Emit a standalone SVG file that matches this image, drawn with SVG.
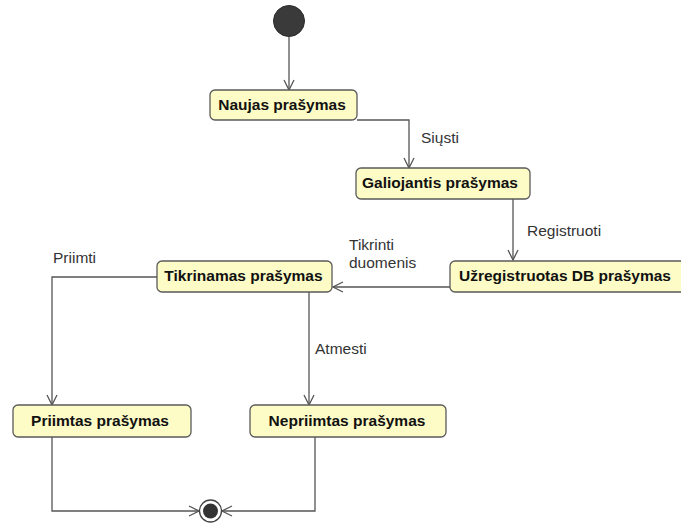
<svg xmlns="http://www.w3.org/2000/svg" width="681" height="524" viewBox="0 0 681 524">
<defs>
<marker id="arr" viewBox="0 0 12 12" refX="11" refY="6" markerWidth="12" markerHeight="12" markerUnits="userSpaceOnUse" orient="auto">
<path d="M1,1 L11,6 L1,11" fill="none" stroke="#555" stroke-width="1.3"/>
</marker>
</defs>
<style>
.box{fill:#fdfcc6;stroke:#5a5a5a;stroke-width:1.3}
.nt{font-family:"Liberation Sans",Arial,sans-serif;font-weight:bold;font-size:15.5px;fill:#111;text-anchor:middle}
.lb{font-family:"Liberation Sans",Arial,sans-serif;font-size:15.5px;fill:#333}
.c{fill:none;stroke:#555;stroke-width:1.3;marker-end:url(#arr)}
</style>
<rect width="681" height="524" fill="#fff"/>
<g id="connectors">
<path class="c" d="M289,37 V90"/>
<path class="c" d="M357,120 H409 V168"/>
<path class="c" d="M513,199 V260"/>
<path class="c" d="M450,287 H333"/>
<path class="c" d="M157,277 H52 V405"/>
<path class="c" d="M309,292 V405"/>
<path class="c" d="M52,437 V511 H199"/>
<path class="c" d="M315,437 V511 H222"/>
<text class="lb" x="421" y="143">Siųsti</text>
<text class="lb" x="527" y="236">Registruoti</text>
<text class="lb" x="349" y="250">Tikrinti</text>
<text class="lb" x="349" y="268">duomenis</text>
<text class="lb" x="53" y="263">Priimti</text>
<text class="lb" x="315" y="354">Atmesti</text>
</g>
<g id="start"><circle cx="289" cy="21" r="15.5" fill="#3a3a3a" stroke="#2a2a2a"/></g>
<g id="naujas"><rect class="box" x="210" y="90" width="147" height="30" rx="5"/><text class="nt" x="282" y="110">Naujas prašymas</text></g>
<g id="galiojantis"><rect class="box" x="356" y="168" width="174" height="31" rx="5"/><text class="nt" x="440" y="188">Galiojantis prašymas</text></g>
<g id="uzregistruotas"><rect class="box" x="450" y="261" width="240" height="31" rx="5"/><text class="nt" x="459" y="281" style="text-anchor:start">Užregistruotas DB prašymas</text></g>
<g id="tikrinamas"><rect class="box" x="157" y="261" width="175" height="31" rx="5"/><text class="nt" x="243.5" y="281">Tikrinamas prašymas</text></g>
<g id="priimtas"><rect class="box" x="13" y="405" width="178" height="32" rx="5"/><text class="nt" x="100" y="426">Priimtas prašymas</text></g>
<g id="nepriimtas"><rect class="box" x="250" y="405" width="196" height="32" rx="5"/><text class="nt" x="347" y="426">Nepriimtas prašymas</text></g>
<g id="end"><circle cx="210.5" cy="511" r="11" fill="#fff" stroke="#444" stroke-width="1.3"/><circle cx="210.5" cy="511" r="7.5" fill="#333"/></g>
</svg>
